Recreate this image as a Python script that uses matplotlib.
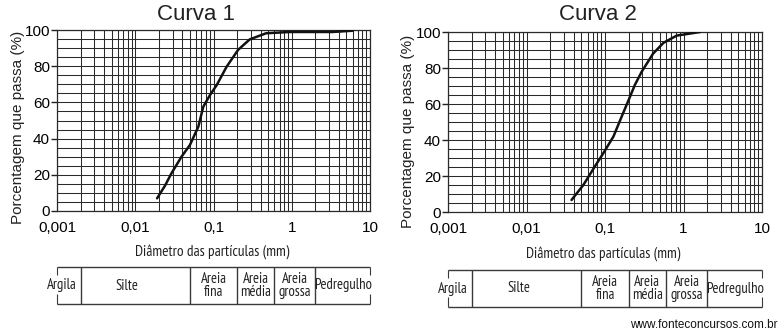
import matplotlib
matplotlib.use("Agg")
import numpy as np
import matplotlib.pyplot as plt
from matplotlib.ticker import LogLocator, MultipleLocator, FixedLocator, NullFormatter

# Grain-size distribution curves (diameter in mm, percent passing)
diam1 = [0.019, 0.024, 0.029, 0.039, 0.050, 0.064, 0.074, 0.090, 0.110,
         0.147, 0.206, 0.290, 0.470, 0.940, 3.3, 6.0]
pass1 = [7.0, 14.0, 20.8, 30.0, 36.5, 46.6, 57.6, 64.0, 69.6,
         79.7, 89.0, 94.8, 98.2, 98.9, 98.9, 99.6]

diam2 = [0.0375, 0.053, 0.074, 0.095, 0.128, 0.163, 0.200, 0.240, 0.294,
         0.410, 0.556, 0.820, 1.63]
pass2 = [6.7, 15.0, 25.2, 32.6, 41.9, 53.0, 62.2, 70.6, 78.0,
         88.0, 94.0, 98.0, 100.0]

titles = ["Curva 1", "Curva 2"]

# Soil fraction classes and their diameter limits (mm)
fractions = ["Argila", "Silte", "Areia\nfina", "Areia\nmédia", "Areia\ngrossa", "Pedregulho"]
limits = [0.001, 0.002, 0.05, 0.2, 0.6, 2.0, 10.0]

xtick_vals = [0.001, 0.01, 0.1, 1, 10]
xtick_labels = ["0,001", "0,01", "0,1", "1", "10"]
ytick_vals = [0, 20, 40, 60, 80, 100]

W, H = 782, 334
fig = plt.figure(figsize=(W / 100, H / 100), dpi=100)

def fbox(x0, y0, x1, y1):
    # pixel box (top-left origin) -> figure rect
    return [x0 / W, 1 - y1 / H, (x1 - x0) / W, (y1 - y0) / H]

panels = [
    dict(ax=(57, 30, 370, 211), table=(57, 267, 370, 304), title=(196, 14),
         ylab=(18, 127), xlab=(212, 252), data=(diam1, pass1)),
    dict(ax=(448, 32, 762, 212), table=(448, 270, 762, 307), title=(598, 15),
         ylab=(408, 131), xlab=(603, 254), data=(diam2, pass2)),
]

grid_col = "#2a2a2a"
sans = ["Liberation Sans", "DejaVu Sans"]
human = ["PT Sans Narrow", "Lato", "DejaVu Sans"]

for i, p in enumerate(panels):
    ax = fig.add_axes(fbox(*p["ax"]))
    ax.set_xscale("log")
    ax.set_xlim(0.001, 10)
    ax.set_ylim(0, 100)
    ax.xaxis.set_major_locator(FixedLocator(xtick_vals))
    ax.set_xticklabels(xtick_labels, family=sans, fontsize=11)
    ax.xaxis.set_minor_locator(LogLocator(base=10, subs=np.arange(2, 10)))
    ax.xaxis.set_minor_formatter(NullFormatter())
    ax.yaxis.set_major_locator(FixedLocator(ytick_vals))
    ax.set_yticklabels([str(v) for v in ytick_vals], family=sans, fontsize=11)
    ax.yaxis.set_minor_locator(MultipleLocator(5))
    ax.grid(which="both", color=grid_col, lw=0.75)
    ax.tick_params(axis="x", which="major", length=0, pad=7)
    ax.tick_params(axis="y", which="major", length=4, width=1, pad=1, color="#222")
    ax.tick_params(which="minor", length=0)
    for s in ax.spines.values():
        s.set_color(grid_col)
        s.set_linewidth(0.9)
    ax.set_axisbelow(True)

    d, v = p["data"]
    ax.plot(d, v, color="#111", lw=1.8, solid_capstyle="round",
            solid_joinstyle="round", zorder=5)

    fig.text(p["title"][0] / W, 1 - p["title"][1] / H, titles[i],
             ha="center", va="center", fontsize=16, family=sans, color="#222")
    fig.text(p["ylab"][0] / W, 1 - p["ylab"][1] / H, "Porcentagem que passa (%)",
             rotation=90, ha="center", va="center", fontsize=11, family=sans, color="#222")
    fig.text(p["xlab"][0] / W, 1 - p["xlab"][1] / H, "Diâmetro das partículas (mm)",
             ha="center", va="center", fontsize=11, family=human, color="#222")

    # classification strip under the chart
    tb = fig.add_axes(fbox(*p["table"]))
    tb.set_xscale("log")
    tb.set_xlim(limits[0], limits[-1])
    tb.set_ylim(0, 1)
    tb.axis("off")
    lc = "#3a3a3a"
    tb.hlines([0, 1], limits[0], limits[-1], color=lc, lw=1.0, clip_on=False)
    tb.vlines(limits[1:-1], 0, 1, color=lc, lw=1.0)
    for edge in (limits[0], limits[-1]):
        tb.vlines(edge, 0, 0.28, color=lc, lw=0.8, clip_on=False)
        tb.vlines(edge, 0.78, 1, color=lc, lw=0.8, clip_on=False)
    for k, name in enumerate(fractions):
        lo, hi = limits[k], limits[k + 1]
        xc = np.sqrt(lo * hi)
        dx = 0
        ha = "center"
        if k == 0:
            xc, ha, dx = hi, "right", -4
        elif k == 1:
            dx = -8
        tb.annotate(name, (xc, 0.5), xytext=(dx * 0.72, 0), textcoords="offset points",
                    ha=ha, va="center", fontsize=10.5, family=human, color="#222",
                    linespacing=0.9, annotation_clip=False)

fig.text(778 / W, 1 - 325 / H, "www.fonteconcursos.com.br", ha="right", va="center",
         fontsize=8.5, family=sans, color="#111")

fig.savefig("out.png", dpi=100, facecolor="white")
